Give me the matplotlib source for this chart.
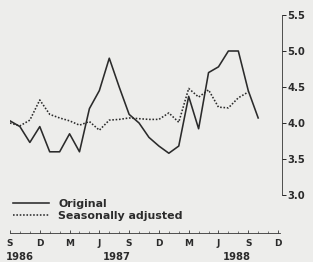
import matplotlib
matplotlib.use("Agg")
import matplotlib.pyplot as plt

# monthly values, Sep 1986 onwards
original = [4.03, 3.95, 3.73, 3.95, 3.6, 3.6, 3.85, 3.6, 4.2, 4.45,
            4.9, 4.5, 4.12, 4.0, 3.8, 3.68, 3.58, 3.68, 4.37, 3.92,
            4.7, 4.78, 5.0, 5.0, 4.45, 4.07]
adjusted = [4.0, 3.96, 4.04, 4.32, 4.12, 4.07, 4.03, 3.97, 4.02, 3.9,
            4.04, 4.05, 4.07, 4.06, 4.05, 4.05, 4.14, 4.01, 4.48, 4.36,
            4.46, 4.22, 4.21, 4.35, 4.43]
month_labels = ["S", "D", "M", "J", "S", "D", "M", "J", "S", "D"]
year_labels = ["1986", "1987", "1988"]
year_pos = [1, 10.8, 22.8]
y_ticks = [3.0, 3.5, 4.0, 4.5, 5.0, 5.5]

ink = "#2b2b2b"
paper = "#ededeb"

fig = plt.figure(figsize=(313 / 72, 262 / 72), dpi=72, facecolor=paper)
ax = fig.add_axes([10 / 313, 67 / 262, 272 / 313, 180 / 262])
ax.set_facecolor(paper)

ax.plot(range(len(original)), original, color=ink, lw=1.6, label="Original")
ax.plot(range(len(adjusted)), adjusted, color=ink, lw=1.6, ls=(0, (1, 1.1)),
        label="Seasonally adjusted")

ax.set_xlim(0, 27.4)
ax.set_ylim(3.0, 5.5)

# right value axis
ax.spines["left"].set_visible(False)
ax.spines["top"].set_visible(False)
ax.spines["right"].set_bounds(3.0, 5.5)
ax.spines["right"].set_color(ink)
ax.yaxis.tick_right()
ax.set_yticks(y_ticks)
ax.set_yticklabels(["%.1f" % v for v in y_ticks])
ax.tick_params(axis="y", direction="out", length=4, width=1, pad=1,
               colors=ink, labelsize=10)
for t in ax.get_yticklabels():
    t.set_fontweight("bold")

# time axis, set apart below the plot
ax.spines["bottom"].set_position(("outward", 38))
ax.spines["bottom"].set_bounds(0, 27.2)
ax.spines["bottom"].set_color(ink)
ax.set_xticks(range(0, 28, 3))
ax.set_xticklabels(month_labels)
ax.set_xticks(range(0, 28), minor=True)
ax.tick_params(axis="x", which="major", direction="in", length=3, pad=6,
               colors=ink, labelsize=9)
ax.tick_params(axis="x", which="minor", direction="in", length=2, colors=ink)
for t in ax.get_xticklabels():
    t.set_fontweight("bold")

for lab, xp in zip(year_labels, year_pos):
    ax.annotate(lab, xy=(xp, 0), xycoords=("data", "axes fraction"),
                xytext=(0, -62), textcoords="offset points",
                ha="center", va="center", fontsize=10, fontweight="bold",
                color=ink)

leg = ax.legend(loc="upper left", bbox_to_anchor=(13 / 313, 63 / 262),
                bbox_transform=fig.transFigure, frameon=False,
                borderpad=0, borderaxespad=0, handlelength=3.3,
                handletextpad=0.8, labelspacing=0.2,
                prop={"size": 11, "weight": "bold"})
for t in leg.get_texts():
    t.set_color(ink)

fig.savefig("out.png", dpi=72, facecolor=paper)
